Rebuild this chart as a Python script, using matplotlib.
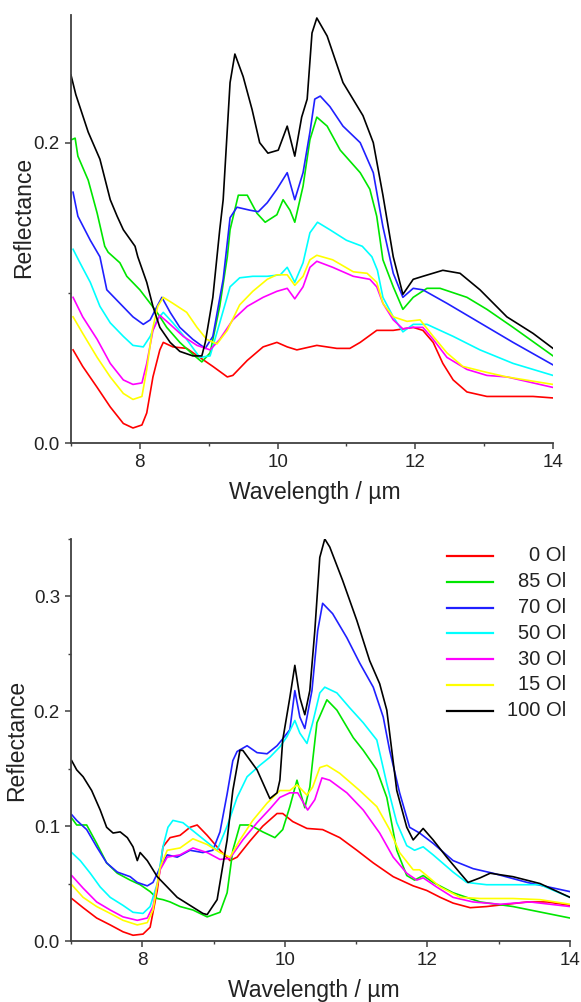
import matplotlib
matplotlib.use("Agg")
import matplotlib.pyplot as plt
from matplotlib.ticker import MultipleLocator

plt.rcParams['font.family'] = ['Liberation Sans', 'DejaVu Sans']

labels = ["0 Ol", "85 Ol", "70 Ol", "50 Ol", "30 Ol", "15 Ol", "100 Ol"]
colors = ["#ff0000", "#00e600", "#2020ff", "#00ffff", "#ff00ff", "#ffff00", "#000000"]

# ---------------- Top panel data ----------------
top_red_x = [7.03, 7.17, 7.38, 7.57, 7.76, 7.90, 8.03, 8.10, 8.19, 8.29, 8.34, 8.48, 8.68, 8.87, 9.06, 9.27, 9.35,
             9.56, 9.79, 9.99, 10.14, 10.28, 10.57, 10.86, 11.05, 11.20, 11.44, 11.68, 11.97, 12.11, 12.26, 12.40,
             12.55, 12.75, 13.04, 13.42, 13.71, 14.0]
top_red_y = [0.062, 0.051, 0.037, 0.024, 0.013, 0.010, 0.012, 0.020, 0.044, 0.062, 0.067, 0.064, 0.063, 0.057, 0.051,
             0.044, 0.045, 0.055, 0.064, 0.067, 0.064, 0.062, 0.065, 0.063, 0.063, 0.067, 0.075, 0.075, 0.077, 0.075,
             0.067, 0.053, 0.042, 0.034, 0.031, 0.031, 0.031, 0.030]

top_green_x = [7.01, 7.06, 7.10, 7.25, 7.38, 7.49, 7.54, 7.71, 7.81, 8.00, 8.15, 8.25, 8.39, 8.58, 8.77, 8.90, 9.02,
               9.16, 9.27, 9.31, 9.43, 9.56, 9.70, 9.82, 9.99, 10.08, 10.18, 10.25, 10.37, 10.47, 10.57, 10.72, 10.91,
               11.20, 11.34, 11.44, 11.53, 11.68, 11.82, 11.97, 12.17, 12.36, 12.75, 13.04, 13.42, 14.0]
top_green_y = [0.202, 0.203, 0.191, 0.175, 0.153, 0.131, 0.127, 0.120, 0.111, 0.102, 0.093, 0.087, 0.077, 0.067,
               0.059, 0.054, 0.060, 0.091, 0.124, 0.142, 0.165, 0.165, 0.153, 0.147, 0.152, 0.162, 0.155, 0.147,
               0.171, 0.202, 0.217, 0.211, 0.195, 0.180, 0.169, 0.151, 0.122, 0.104, 0.089, 0.097, 0.103, 0.103,
               0.097, 0.089, 0.077, 0.058]

top_blue_x = [7.03, 7.10, 7.28, 7.42, 7.52, 7.71, 7.90, 8.05, 8.15, 8.25, 8.32, 8.44, 8.58, 8.77, 8.95, 9.06, 9.21,
              9.31, 9.41, 9.60, 9.72, 9.85, 9.99, 10.14, 10.25, 10.37, 10.47, 10.54, 10.62, 10.76, 10.95, 11.20,
              11.39, 11.53, 11.68, 11.82, 11.97, 12.11, 12.46, 12.94, 13.42, 14.0]
top_blue_y = [0.167, 0.151, 0.135, 0.124, 0.102, 0.093, 0.084, 0.079, 0.082, 0.091, 0.097, 0.087, 0.077, 0.069,
              0.063, 0.071, 0.109, 0.150, 0.157, 0.155, 0.154, 0.160, 0.169, 0.180, 0.162, 0.180, 0.207, 0.229,
              0.231, 0.224, 0.211, 0.200, 0.180, 0.144, 0.113, 0.097, 0.103, 0.102, 0.093, 0.080, 0.067, 0.052]

top_cyan_x = [7.03, 7.13, 7.28, 7.42, 7.57, 7.76, 7.90, 8.05, 8.15, 8.25, 8.34, 8.48, 8.68, 8.87, 9.02, 9.16, 9.31,
              9.45, 9.64, 9.85, 10.04, 10.14, 10.25, 10.37, 10.47, 10.58, 10.76, 11.00, 11.23, 11.37, 11.45, 11.53,
              11.68, 11.82, 11.97, 12.17, 12.55, 12.94, 13.42, 14.0]
top_cyan_y = [0.129, 0.120, 0.107, 0.091, 0.080, 0.071, 0.065, 0.064, 0.071, 0.082, 0.087, 0.080, 0.069, 0.057,
              0.058, 0.080, 0.104, 0.110, 0.111, 0.111, 0.112, 0.117, 0.107, 0.120, 0.140, 0.147, 0.142, 0.135,
              0.131, 0.124, 0.115, 0.097, 0.084, 0.074, 0.079, 0.079, 0.071, 0.062, 0.053, 0.045]

top_magenta_x = [7.03, 7.17, 7.38, 7.57, 7.76, 7.90, 8.03, 8.10, 8.19, 8.29, 8.44, 8.63, 8.83, 9.02, 9.16, 9.35,
                 9.56, 9.79, 9.99, 10.14, 10.25, 10.37, 10.47, 10.57, 10.80, 11.10, 11.34, 11.44, 11.53, 11.68,
                 11.82, 11.97, 12.11, 12.26, 12.46, 12.75, 13.04, 13.33, 14.0]
top_magenta_y = [0.097, 0.084, 0.069, 0.053, 0.042, 0.039, 0.040, 0.053, 0.075, 0.085, 0.079, 0.071, 0.065, 0.062,
                 0.069, 0.082, 0.091, 0.097, 0.101, 0.103, 0.096, 0.104, 0.117, 0.121, 0.117, 0.111, 0.109, 0.104,
                 0.093, 0.082, 0.076, 0.077, 0.077, 0.069, 0.057, 0.049, 0.045, 0.044, 0.037]

top_yellow_x = [7.03, 7.17, 7.38, 7.57, 7.76, 7.90, 8.03, 8.10, 8.18, 8.26, 8.34, 8.48, 8.68, 8.83, 8.97, 9.12,
                9.27, 9.45, 9.64, 9.85, 9.99, 10.14, 10.25, 10.37, 10.47, 10.57, 10.80, 11.10, 11.30, 11.44, 11.53,
                11.68, 11.88, 12.07, 12.26, 12.46, 12.69, 13.04, 13.33, 14.0]
top_yellow_y = [0.084, 0.073, 0.057, 0.044, 0.033, 0.029, 0.031, 0.049, 0.075, 0.091, 0.097, 0.093, 0.087, 0.077,
                0.069, 0.066, 0.075, 0.092, 0.101, 0.109, 0.112, 0.112, 0.105, 0.111, 0.122, 0.125, 0.122, 0.114,
                0.113, 0.107, 0.093, 0.084, 0.081, 0.082, 0.071, 0.060, 0.051, 0.047, 0.044, 0.039]

top_black_x = [7.0, 7.07, 7.25, 7.42, 7.57, 7.67, 7.76, 7.93, 7.97, 8.10, 8.19, 8.29, 8.44, 8.58, 8.77, 8.90, 8.95,
               9.06, 9.16, 9.21, 9.31, 9.38, 9.50, 9.63, 9.74, 9.86, 10.01, 10.14, 10.25, 10.35, 10.43, 10.50,
               10.57, 10.72, 10.95, 11.24, 11.39, 11.53, 11.68, 11.82, 11.97, 12.11, 12.40, 12.65, 12.94, 13.33,
               13.71, 14.0]
top_black_y = [0.245, 0.232, 0.207, 0.189, 0.162, 0.151, 0.142, 0.131, 0.124, 0.107, 0.091, 0.077, 0.067, 0.061,
               0.058, 0.058, 0.067, 0.097, 0.142, 0.162, 0.240, 0.259, 0.244, 0.222, 0.200, 0.193, 0.195, 0.211,
               0.191, 0.217, 0.229, 0.273, 0.283, 0.271, 0.240, 0.218, 0.200, 0.165, 0.124, 0.099, 0.109, 0.111,
               0.115, 0.113, 0.102, 0.084, 0.073, 0.063]

# ---------------- Bottom panel data ----------------
bot_red_x = [7.01, 7.17, 7.36, 7.55, 7.73, 7.87, 8.01, 8.11, 8.21, 8.29, 8.39, 8.53, 8.67, 8.77, 8.91, 9.09, 9.23,
             9.33, 9.51, 9.69, 9.89, 9.97, 10.11, 10.31, 10.53, 10.77, 11.01, 11.24, 11.52, 11.80, 11.99, 12.18,
             12.36, 12.60, 12.83, 13.12, 13.40, 13.68, 14.0]
bot_red_y = [0.037, 0.029, 0.020, 0.014, 0.008, 0.005, 0.006, 0.012, 0.044, 0.082, 0.090, 0.092, 0.099, 0.101,
             0.092, 0.079, 0.070, 0.073, 0.087, 0.100, 0.111, 0.111, 0.104, 0.098, 0.097, 0.090, 0.079, 0.068,
             0.056, 0.048, 0.044, 0.038, 0.033, 0.029, 0.030, 0.032, 0.034, 0.034, 0.031]

bot_green_x = [7.01, 7.08, 7.22, 7.36, 7.50, 7.65, 7.83, 7.97, 8.11, 8.21, 8.29, 8.39, 8.53, 8.71, 8.91, 9.09, 9.19,
               9.27, 9.37, 9.51, 9.69, 9.86, 9.97, 10.07, 10.17, 10.21, 10.28, 10.35, 10.39, 10.45, 10.59, 10.73,
               10.96, 11.10, 11.29, 11.43, 11.57, 11.71, 11.82, 11.94, 12.08, 12.36, 12.74, 13.20, 14.0]
bot_green_y = [0.107, 0.101, 0.101, 0.085, 0.068, 0.059, 0.053, 0.049, 0.043, 0.037, 0.036, 0.034, 0.030, 0.027,
               0.021, 0.025, 0.042, 0.079, 0.101, 0.101, 0.095, 0.090, 0.097, 0.117, 0.140, 0.131, 0.116, 0.134,
               0.157, 0.190, 0.210, 0.201, 0.177, 0.166, 0.149, 0.125, 0.079, 0.057, 0.053, 0.057, 0.051, 0.042,
               0.034, 0.030, 0.020]

bot_blue_x = [7.01, 7.08, 7.22, 7.36, 7.50, 7.65, 7.83, 7.93, 8.07, 8.15, 8.25, 8.35, 8.49, 8.67, 8.85, 8.99, 9.09,
              9.19, 9.27, 9.33, 9.47, 9.61, 9.75, 9.89, 9.97, 10.07, 10.14, 10.21, 10.28, 10.38, 10.46, 10.53,
              10.67, 10.87, 11.05, 11.24, 11.38, 11.47, 11.61, 11.75, 11.89, 12.08, 12.36, 12.64, 12.92, 13.40,
              14.0]
bot_blue_y = [0.110, 0.105, 0.097, 0.082, 0.068, 0.060, 0.056, 0.051, 0.048, 0.051, 0.064, 0.075, 0.073, 0.079,
              0.077, 0.079, 0.095, 0.128, 0.157, 0.165, 0.170, 0.164, 0.163, 0.170, 0.176, 0.184, 0.218, 0.195,
              0.185, 0.218, 0.270, 0.294, 0.285, 0.264, 0.242, 0.221, 0.195, 0.166, 0.129, 0.099, 0.094, 0.085,
              0.070, 0.063, 0.059, 0.051, 0.043]

bot_cyan_x = [7.01, 7.13, 7.27, 7.41, 7.55, 7.73, 7.87, 8.01, 8.11, 8.21, 8.29, 8.36, 8.43, 8.57, 8.71, 8.91, 9.05,
              9.19, 9.33, 9.47, 9.65, 9.79, 9.93, 10.03, 10.14, 10.21, 10.31, 10.39, 10.49, 10.56, 10.73, 10.91,
              11.10, 11.29, 11.43, 11.57, 11.71, 11.82, 11.94, 12.08, 12.36, 12.55, 12.83, 13.20, 13.58, 14.0]
bot_cyan_y = [0.077, 0.070, 0.059, 0.047, 0.038, 0.031, 0.025, 0.024, 0.030, 0.050, 0.082, 0.099, 0.105, 0.103,
              0.096, 0.086, 0.079, 0.100, 0.125, 0.143, 0.153, 0.160, 0.169, 0.178, 0.192, 0.181, 0.172, 0.190,
              0.216, 0.221, 0.216, 0.203, 0.190, 0.175, 0.137, 0.103, 0.083, 0.079, 0.082, 0.075, 0.060, 0.051,
              0.049, 0.049, 0.049, 0.038]

bot_magenta_x = [7.01, 7.17, 7.36, 7.55, 7.73, 7.93, 8.07, 8.15, 8.25, 8.35, 8.53, 8.71, 8.91, 9.09, 9.23, 9.41,
                 9.61, 9.79, 9.93, 10.07, 10.18, 10.32, 10.42, 10.52, 10.63, 10.87, 11.10, 11.33, 11.52, 11.71,
                 11.85, 11.94, 12.13, 12.36, 12.64, 13.02, 13.44, 14.0]
bot_magenta_y = [0.057, 0.046, 0.034, 0.027, 0.021, 0.018, 0.020, 0.030, 0.062, 0.073, 0.075, 0.081, 0.077, 0.071,
                 0.072, 0.088, 0.103, 0.115, 0.125, 0.129, 0.129, 0.114, 0.123, 0.142, 0.140, 0.129, 0.114, 0.094,
                 0.073, 0.059, 0.053, 0.055, 0.047, 0.038, 0.034, 0.032, 0.034, 0.030]

bot_yellow_x = [7.01, 7.17, 7.36, 7.55, 7.73, 7.93, 8.07, 8.15, 8.25, 8.35, 8.53, 8.71, 8.91, 9.09, 9.23, 9.37,
                9.55, 9.75, 9.93, 10.07, 10.17, 10.31, 10.39, 10.49, 10.59, 10.77, 11.05, 11.29, 11.47, 11.61,
                11.80, 11.89, 11.99, 12.18, 12.46, 12.74, 13.20, 13.58, 14.0]
bot_yellow_y = [0.049, 0.038, 0.030, 0.024, 0.018, 0.014, 0.016, 0.027, 0.064, 0.079, 0.081, 0.089, 0.084, 0.077,
                0.073, 0.088, 0.105, 0.120, 0.131, 0.131, 0.136, 0.127, 0.134, 0.151, 0.153, 0.146, 0.131, 0.117,
                0.097, 0.077, 0.062, 0.062, 0.057, 0.047, 0.038, 0.037, 0.037, 0.036, 0.032]

bot_black_x = [7.01, 7.08, 7.17, 7.29, 7.41, 7.50, 7.59, 7.69, 7.79, 7.87, 7.93, 7.97, 8.07, 8.21, 8.35, 8.49, 8.67,
               8.85, 8.91, 9.05, 9.19, 9.27, 9.37, 9.41, 9.61, 9.79, 9.89, 9.93, 9.97, 10.07, 10.14, 10.21, 10.28,
               10.35, 10.42, 10.49, 10.56, 10.63, 10.81, 11.01, 11.19, 11.33, 11.43, 11.50, 11.57, 11.71, 11.80,
               11.94, 12.08, 12.27, 12.46, 12.57, 12.74, 12.88, 13.20, 13.58, 14.0]
bot_black_y = [0.157, 0.149, 0.143, 0.131, 0.114, 0.099, 0.094, 0.095, 0.090, 0.082, 0.070, 0.077, 0.070, 0.056,
               0.047, 0.038, 0.031, 0.024, 0.023, 0.036, 0.088, 0.131, 0.166, 0.166, 0.149, 0.124, 0.129, 0.140,
               0.175, 0.212, 0.240, 0.212, 0.197, 0.218, 0.270, 0.334, 0.350, 0.343, 0.314, 0.279, 0.244, 0.224,
               0.201, 0.166, 0.131, 0.099, 0.088, 0.098, 0.088, 0.073, 0.059, 0.051, 0.055, 0.059, 0.056, 0.050,
               0.038]

top_series = [(top_red_x, top_red_y), (top_green_x, top_green_y), (top_blue_x, top_blue_y),
              (top_cyan_x, top_cyan_y), (top_magenta_x, top_magenta_y), (top_yellow_x, top_yellow_y),
              (top_black_x, top_black_y)]
bot_series = [(bot_red_x, bot_red_y), (bot_green_x, bot_green_y), (bot_blue_x, bot_blue_y),
              (bot_cyan_x, bot_cyan_y), (bot_magenta_x, bot_magenta_y), (bot_yellow_x, bot_yellow_y),
              (bot_black_x, bot_black_y)]

W, H = 581, 1002
fig = plt.figure(figsize=(W / 100, H / 100), dpi=100)

ax1 = fig.add_axes([71 / W, 1 - 443 / H, 482 / W, 428 / H])
ax2 = fig.add_axes([71 / W, 1 - 941 / H, 499 / W, 402 / H])

spine_col = "#404040"
for ax, series, ylim, ymaj, ymin in [(ax1, top_series, 0.285, 0.2, 0.1), (ax2, bot_series, 0.35, 0.1, 0.05)]:
    for (x, y), c, lab in zip(series, colors, labels):
        ax.plot(x, y, color=c, lw=1.2, label=lab)
    ax.set_xlim(7, 14)
    ax.set_ylim(0, ylim)
    ax.xaxis.set_major_locator(MultipleLocator(2))
    ax.xaxis.set_minor_locator(MultipleLocator(1))
    ax.yaxis.set_major_locator(MultipleLocator(ymaj))
    ax.yaxis.set_minor_locator(MultipleLocator(ymin))
    ax.yaxis.set_major_formatter(matplotlib.ticker.FormatStrFormatter('%.1f'))
    for s in ["top", "right"]:
        ax.spines[s].set_visible(False)
    for s in ["left", "bottom"]:
        ax.spines[s].set_color(spine_col)
        ax.spines[s].set_linewidth(1.3)
    ax.tick_params(which="major", direction="out", length=4, width=1.1, color=spine_col,
                   labelsize=13.5, pad=4, labelcolor="#222222")
    ax.tick_params(which="minor", direction="out", length=2.5, width=1.0, color=spine_col)
    ax.set_xlabel("Wavelength / µm", fontsize=16.5, color="#222222")
    ax.set_ylabel("Reflectance", fontsize=16.5, color="#222222")

ax1.xaxis.set_label_coords(0.506, -0.088)
ax1.yaxis.set_label_coords(-0.075, 0.528)
ax2.xaxis.set_label_coords(0.487, -0.094)
ax2.yaxis.set_label_coords(-0.086, 0.50)

# legend (right-aligned text, as in the reference)
ly0 = 0.958
dy = 0.0642
for i, (c, lab) in enumerate(zip(colors, labels)):
    yy = ly0 - i * dy
    ax2.plot([0.754, 0.846], [yy, yy], color=c, lw=1.6, transform=ax2.transAxes, clip_on=False)
    ax2.text(0.992, yy, lab, ha="right", va="center", fontsize=14.5, color="#222222",
             transform=ax2.transAxes)

fig.savefig("out.png", dpi=100)
